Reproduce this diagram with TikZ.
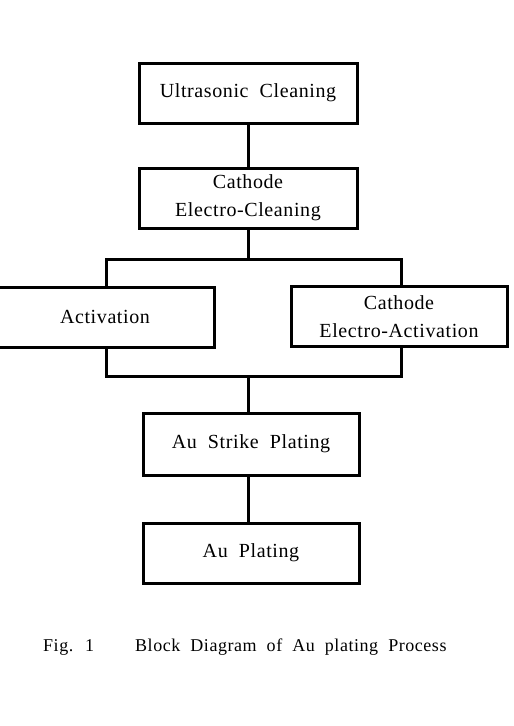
\documentclass[tikz,border=0pt]{standalone}
\usepackage{fontspec}
\setmainfont[LetterSpace=3,WordSpace=2]{Liberation Serif}
\begin{document}
\begin{tikzpicture}[x=1pt,y=-1pt,
  blk/.style={draw,line width=3pt,minimum width=216pt,minimum height=60pt,align=center,inner sep=0pt,font=\fontsize{20}{28}\selectfont},
  conn/.style={line width=3pt},
  captxt/.style={anchor=base west,inner sep=0pt,font=\fontsize{18}{20}\selectfont}]
\useasboundingbox (0,0) rectangle (514,726);
\fill[white] (0,0) rectangle (514,726);
\node[blk,minimum width=218pt] (b1) at (248,93) {Ultrasonic Cleaning};
\node[blk,minimum width=218pt] (b2) at (248,198) {\raisebox{-3pt}{Cathode}\\\raisebox{-3pt}{Electro-Cleaning}};
\node[blk,minimum width=218pt] (act) at (105,317) {Activation};
\node[blk] (ea) at (399,316.5) {\raisebox{-2pt}{Cathode}\\\raisebox{-2pt}{Electro-Activation}};
\node[blk,minimum height=62pt] (b4) at (251,444) {Au Strike Plating};
\node[blk] (b5) at (251,553) {Au Plating};
\coordinate (j1) at (248,259);
\coordinate (j2) at (248,376);
\coordinate (la) at (106,0);
\coordinate (ra) at (401,0);
\draw[conn] (b1.south) -- (b2.north);
\draw[conn] (b2.south) -- (j1);
\draw[conn] (act.north -| la) |- (j1) -| (ea.north -| ra);
\draw[conn] (act.south -| la) |- (j2) -| (ea.south -| ra);
\draw[conn] (j2) -- (b4.north -| j2);
\draw[conn] (b4.south -| j2) -- (b5.north -| j2);
\node[captxt] (fig) at (43,651) {Fig. 1};
\node[captxt] (cap) at (135,651) {Block Diagram of Au plating Process};
\end{tikzpicture}
\end{document}
